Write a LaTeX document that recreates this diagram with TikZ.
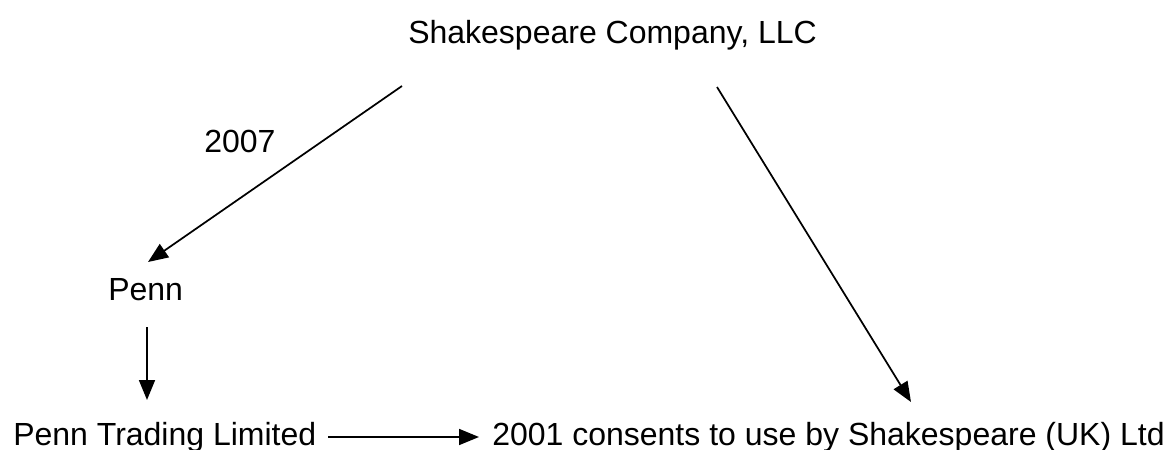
\documentclass[tikz,border=0pt]{standalone}
\usepackage{fontspec}
\setmainfont{Liberation Sans}
\usetikzlibrary{arrows.meta}
\begin{document}
\begin{tikzpicture}[x=0.75pt,y=-0.75pt,
  lbl/.style={anchor=base west,inner sep=0pt,font=\fontsize{24}{28}\selectfont},
  conn/.style={line width=1.3pt,-{Triangle[length=15pt,width=12pt]}}]
\useasboundingbox (0,0) rectangle (1168,450);
\node[lbl] (top) at (408,43) {Shakespeare Company, LLC};
\node[lbl] (year) at (204,152) {2007};
\node[lbl] (penn) at (108,300) {Penn};
\node[lbl] (ptl) at (13,445) {Penn Trading Limited};
\node[lbl] (cons) at (492,445) {2001 consents to use by Shakespeare (UK) Ltd};
\coordinate (a1) at (402,86);
\coordinate (a1e) at (148,262);
\coordinate (a2) at (717,87);
\coordinate (a2e) at (911,402);
\coordinate (a3) at (147,327);
\coordinate (a3e) at (147,400);
\coordinate (a4) at (328,437);
\coordinate (a4e) at (479,437);
\draw[conn] (a1) -- (a1e);
\draw[conn] (a2) -- (a2e);
\draw[conn] (a3) -- (a3e);
\draw[conn] (a4) -- (a4e);
\end{tikzpicture}
\end{document}
